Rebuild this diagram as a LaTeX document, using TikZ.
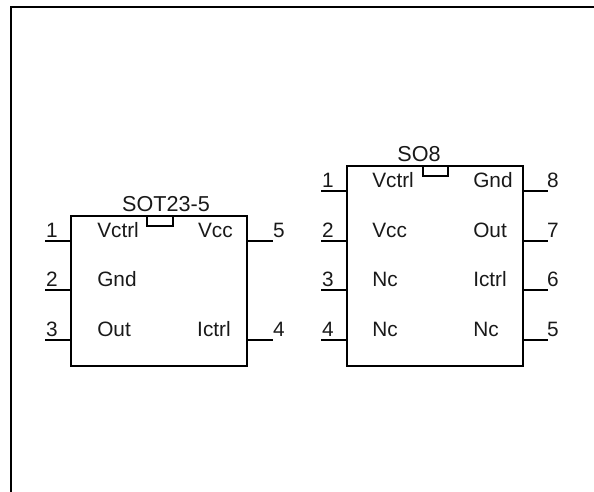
\documentclass[tikz,border=0pt]{standalone}
\usepackage{fontspec}
\setmainfont{Liberation Sans}
\tikzset{
  x=0.75pt,y=-0.75pt,
  frameline/.style={line width=1.5pt,line cap=butt},
  bodyline/.style={line width=1.5pt,line join=miter},
  pinline/.style={line width=1.5pt},
  lbl/.style={font=\fontsize{15.6pt}{17pt}\selectfont,inner sep=0pt,text=black!90},
  pinnum/.style={font=\fontsize{15.6pt}{17pt}\selectfont,inner sep=0pt,text=black!90},
  title/.style={font=\fontsize{16.2pt}{18pt}\selectfont,inner sep=0pt,text=black!90}
}
\begin{document}
\begin{tikzpicture}
\useasboundingbox (0,0) rectangle (594,492);
\coordinate (fa) at (11,492);
\coordinate (fb) at (11,7.5);
\coordinate (fc) at (594,7.5);
\draw[frameline] (fa) -- (fb) -- (fc);
% SOT23-5
\coordinate (a1) at (71,216);
\coordinate (a2) at (247,366);
\draw[bodyline] (a1) rectangle (a2);
\draw[bodyline] (147,216) -- (147,226) -- (173,226) -- (173,216);
\node[title] at (166,204) {SOT23-5};
\foreach \n/\y/\t in {1/241/Vctrl,2/290/Gnd,3/340/Out}{
  \draw[pinline] (45,\y) -- (71,\y);
  \node[pinnum] at (52,\y-11) {\n};
  \node[lbl,anchor=west] at (97,\y-11) {\t};
}
\draw[pinline] (247,241) -- (273,241);
\node[pinnum] at (279,230) {5};
\node[lbl,anchor=east] at (233,230) {Vcc};
\draw[pinline] (247,340) -- (273,340);
\node[pinnum] at (279,329) {4};
\node[lbl,anchor=east] at (231,329) {Ictrl};
% SO8
\coordinate (b1) at (347,166);
\coordinate (b2) at (523,366);
\draw[bodyline] (b1) rectangle (b2);
\draw[bodyline] (423,166) -- (423,176) -- (448,176) -- (448,166);
\node[title] at (419,154) {SO8};
\foreach \n/\y/\t in {1/191/Vctrl,2/241/Vcc,3/290/Nc,4/340/Nc}{
  \draw[pinline] (321,\y) -- (347,\y);
  \node[pinnum] at (328,\y-11) {\n};
  \node[lbl,anchor=west] at (372,\y-11) {\t};
}
\foreach \n/\y/\t in {8/191/Gnd,7/241/Out,6/290/Ictrl,5/340/Nc}{
  \draw[pinline] (523,\y) -- (548,\y);
  \node[pinnum] at (553,\y-11) {\n};
  \node[lbl,anchor=west] at (473,\y-11) {\t};
}
\end{tikzpicture}
\end{document}
